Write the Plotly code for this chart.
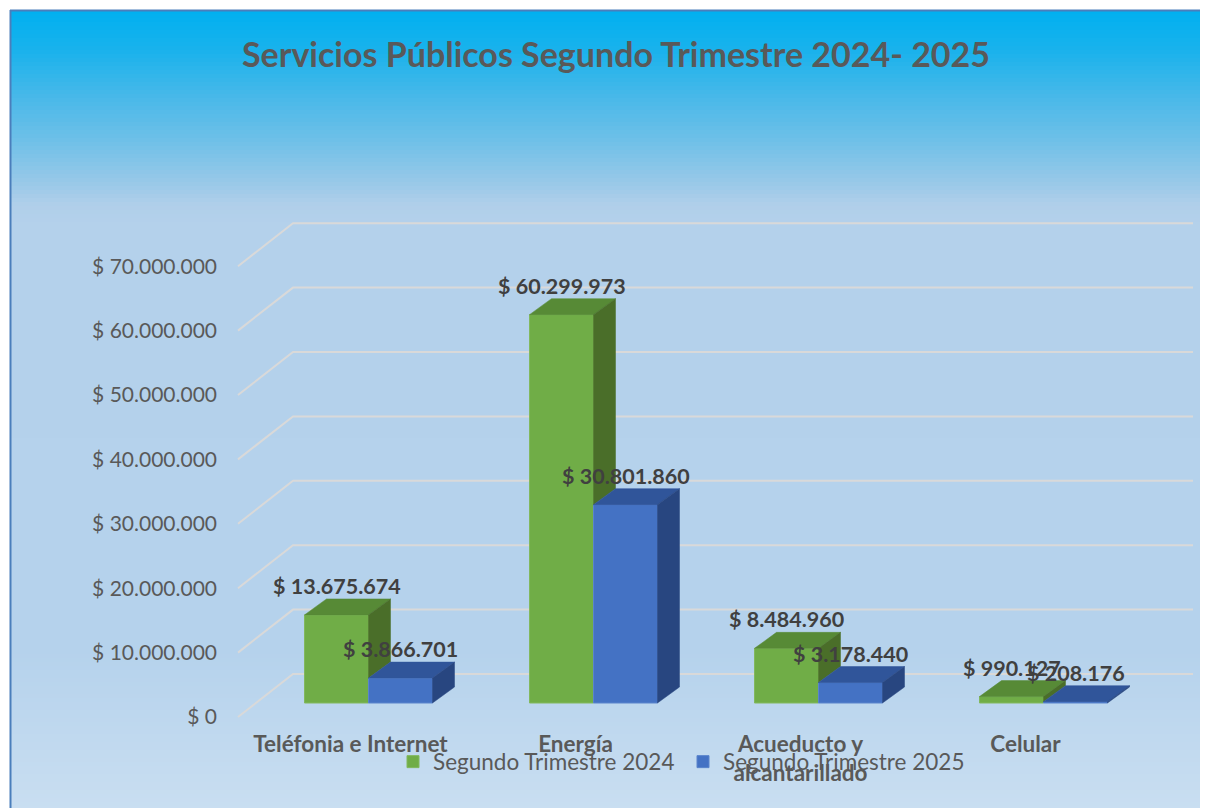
import plotly.graph_objects as go

# ---------------- data ----------------
categories = ["Teléfonia e Internet", "Energía", "Acueducto y alcantarillado", "Celular"]
category_labels = ["Teléfonia e Internet", "Energía", "Acueducto y<br>alcantarillado", "Celular"]
series_names = ["Segundo Trimestre 2024", "Segundo Trimestre 2025"]
values_2024 = [13675674, 60299973, 8484960, 990127]
values_2025 = [3866701, 30801860, 3178440, 208176]
y_ticks = [0, 10000000, 20000000, 30000000, 40000000, 50000000, 60000000, 70000000]
title_text = "Servicios Públicos Segundo Trimestre 2024- 2025"


def money(v):
    return "$ " + f"{v:,}".replace(",", ".")


# ---------------- geometry (figure pixels; page adds an 8px body margin) ----------------
W, H = 1200, 800
ML, MR, MT, MB = 222, 0, 0, 80
PLOT_W = W - ML - MR
PLOT_H = H - MT - MB
PX_PER_CAT = 225.0          # pixels per category
X_LEFT_PX = 248.0           # pixel of category -0.5 on the bar plane
ZERO_PX = 695.0             # pixel row of value 0 on the bar plane
PX_PER_VAL = 6.44e-6        # pixels per peso

BAR_W = 64.0 / PX_PER_CAT
DEPTH = (22.0, 16.0)        # bar depth offset (right, up) in px
FRONT = (-18, -14)          # front plane offset from bar plane (right, up)
BACK = (37, 29)             # back wall offset from bar plane (right, up)


def ux(px):
    return px / PX_PER_CAT


def uy(px):
    return px / PX_PER_VAL


x_range = [-0.5 - (X_LEFT_PX - ML) / PX_PER_CAT, -0.5 + (W - MR - X_LEFT_PX) / PX_PER_CAT]
y_range = [-(MT + PLOT_H - ZERO_PX) / PX_PER_VAL, (ZERO_PX - MT) / PX_PER_VAL]
y2_range = [y_range[0] - uy(FRONT[1]), y_range[1] - uy(FRONT[1])]

G_FRONT, G_TOP, G_SIDE = "#70AD47", "#578A36", "#4A6E29"
B_FRONT, B_TOP, B_SIDE = "#4472C4", "#30559A", "#284680"
TXT = "#595959"
FONT = "Lato"

fig = go.Figure()

# front faces of the bars
fig.add_trace(go.Bar(
    x=list(range(len(categories))), y=values_2024, name=series_names[0],
    width=BAR_W, offset=-BAR_W, marker=dict(color=G_FRONT, line=dict(color="#82B85E", width=1)),
    hoverinfo="skip", customdata=categories,
))
fig.add_trace(go.Bar(
    x=list(range(len(categories))), y=values_2025, name=series_names[1],
    width=BAR_W, offset=0, marker=dict(color=B_FRONT, line=dict(color="#5A84CC", width=1)),
    hoverinfo="skip", customdata=categories,
))

dx, dy = ux(DEPTH[0]), uy(DEPTH[1])


def poly(xs, ys, color):
    fig.add_trace(go.Scatter(
        x=xs + [xs[0]], y=ys + [ys[0]], mode="lines", fill="toself",
        fillcolor=color, line=dict(color=color, width=0.5),
        showlegend=False, hoverinfo="skip",
    ))


annotations = []
for i in range(len(categories)):
    g, b = values_2024[i], values_2025[i]
    gx0, gx1 = i - BAR_W, i
    bx0, bx1 = i, i + BAR_W
    # green: top + visible part of side
    poly([gx0, gx1, gx1 + dx, gx0 + dx], [g, g, g + dy, g + dy], G_TOP)
    low = min(b, g)
    poly([gx1, gx1, gx1 + dx, gx1 + dx], [low, g, g + dy, low + dy], G_SIDE)
    # blue: top + side
    poly([bx0, bx1, bx1 + dx, bx0 + dx], [b, b, b + dy, b + dy], B_TOP)
    poly([bx1, bx1, bx1 + dx, bx1 + dx], [0, b, b + dy, dy], B_SIDE)
    for v, cx in ((g, (gx0 + gx1) / 2), (b, (bx0 + bx1) / 2)):
        annotations.append(dict(
            x=cx, y=v + dy, xref="x", yref="y", text=money(v), showarrow=False,
            yanchor="bottom", xanchor="center", yshift=-2,
            font=dict(family=FONT, size=21.5, color="#404040", weight="bold"),
        ))

shapes = []
# background gradient (paper coordinates)
stops = [(2, (0, 176, 240)), (42, (25, 178, 236)), (92, (75, 185, 233)),
         (132, (110, 192, 232)), (172, (150, 200, 232)), (197, (176, 207, 234)),
         (217, (180, 209, 235)), (642, (181, 210, 236)), (800, (201, 222, 241))]


def col_at(p):
    for (p0, c0), (p1, c1) in zip(stops[:-1], stops[1:]):
        if p0 <= p <= p1:
            t = (p - p0) / (p1 - p0)
            return "rgb(%d,%d,%d)" % tuple(round(a + (bb - a) * t) for a, bb in zip(c0, c1))
    return "rgb(%d,%d,%d)" % stops[-1][1]


def px_to_paper_x(p):
    return (p - ML) / PLOT_W


def px_to_paper_y(p):
    return (MT + PLOT_H - p) / PLOT_H


step = 4
for p in range(2, H, step):
    shapes.append(dict(
        type="rect", xref="paper", yref="paper", layer="below",
        x0=px_to_paper_x(2), x1=px_to_paper_x(W + 2),
        y0=px_to_paper_y(p), y1=px_to_paper_y(min(p + step + 1, H + 2)),
        fillcolor=col_at(p + step / 2), line=dict(width=0),
    ))
# border
shapes.append(dict(type="line", xref="paper", yref="paper", layer="below",
                   x0=px_to_paper_x(2.5), x1=px_to_paper_x(2.5), y0=px_to_paper_y(2), y1=px_to_paper_y(H + 2),
                   line=dict(color="#4A7EBB", width=2)))
shapes.append(dict(type="line", xref="paper", yref="paper", layer="below",
                   x0=px_to_paper_x(2), x1=px_to_paper_x(W + 2), y0=px_to_paper_y(2.5), y1=px_to_paper_y(2.5),
                   line=dict(color="#4A7EBB", width=2)))

# 3D gridlines: front diagonal + back wall horizontal
n = len(categories)
for t in y_ticks:
    xf, yf = -0.5 + ux(FRONT[0]), t + uy(FRONT[1])
    xb, yb = -0.5 + ux(BACK[0]), t + uy(BACK[1])
    xe = n - 0.5 + ux(BACK[0])
    shapes.append(dict(
        type="path", xref="x", yref="y", layer="below",
        path=f"M {xf},{yf} L {xb},{yb} L {xe},{yb}",
        line=dict(color="#D9D9D9", width=2),
    ))

fig.update_layout(
    width=W, height=H,
    margin=dict(l=ML, r=MR, t=MT, b=MB, pad=0),
    paper_bgcolor="white", plot_bgcolor="rgba(0,0,0,0)",
    barmode="overlay",
    showlegend=True,
    title=dict(text=title_text, x=608 / W, xref="container", xanchor="center",
               y=1 - 47 / H, yref="container", yanchor="middle",
               font=dict(family=FONT, size=34, color=TXT, weight="bold")),
    xaxis=dict(range=x_range, tickmode="array", tickvals=list(range(n)), ticktext=category_labels,
               ticklabelshift=FRONT[0], showgrid=False, zeroline=False, showline=False, ticks="",
               tickfont=dict(family=FONT, size=22.5, color=TXT, weight="bold"), fixedrange=True),
    yaxis=dict(range=y_range, showgrid=False, zeroline=False, showline=False, showticklabels=False,
               fixedrange=True),
    yaxis2=dict(range=y2_range, overlaying="y", anchor="x", side="left", tickmode="array",
                tickvals=y_ticks, ticktext=[money(t) for t in y_ticks], showgrid=False,
                zeroline=False, showline=False, ticks="", ticklabelstandoff=12,
                tickfont=dict(family=FONT, size=21, color=TXT), fixedrange=True),
    legend=dict(orientation="h", x=px_to_paper_x(385), xanchor="left",
                y=px_to_paper_y(754), yanchor="middle", bgcolor="rgba(0,0,0,0)",
                font=dict(family=FONT, size=22.5, color=TXT), entrywidth=245, entrywidthmode="pixels",
                traceorder="normal"),
    shapes=shapes,
    annotations=annotations,
)

# invisible trace so that yaxis2 (front-plane value labels) is drawn
fig.add_trace(go.Scatter(x=[None], y=[None], yaxis="y2", showlegend=False, hoverinfo="skip"))

fig.write_html("out.html")
